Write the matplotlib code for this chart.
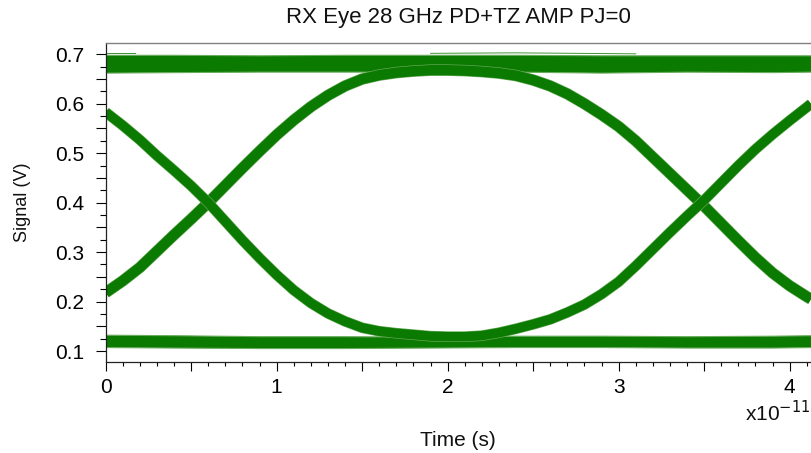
import matplotlib
matplotlib.use("Agg")
import matplotlib.pyplot as plt
import numpy as np
from matplotlib.ticker import MultipleLocator, FuncFormatter

# ---- data (time in units of 1e-11 s, signal in V) ----
TIME_SCALE = 1e-11

# upper trajectory: 0->1 edge, peak, then 1->0 edge
upper_t = [0.0, 0.1, 0.2, 0.3, 0.4, 0.5, 0.6, 0.7, 0.8, 0.9, 1.0, 1.1, 1.2, 1.3,
           1.4, 1.5, 1.6, 1.7, 1.8, 1.9, 2.0, 2.1, 2.2, 2.3, 2.4, 2.5, 2.6, 2.7,
           2.8, 2.9, 3.0, 3.1, 3.2, 3.3, 3.4, 3.5, 3.6, 3.7, 3.8, 3.9, 4.0, 4.1,
           4.125]
upper_v = [0.218, 0.242, 0.269, 0.302, 0.335, 0.367, 0.400, 0.435, 0.470, 0.504,
           0.537, 0.567, 0.594, 0.617, 0.636, 0.650, 0.658, 0.663, 0.666, 0.668,
           0.668, 0.667, 0.665, 0.662, 0.657, 0.648, 0.636, 0.620, 0.600, 0.578,
           0.554, 0.525, 0.492, 0.459, 0.426, 0.393, 0.358, 0.323, 0.289, 0.258,
           0.232, 0.210, 0.205]

# lower trajectory: 1->0 edge, trough, then 0->1 edge
lower_t = upper_t
lower_v = [0.583, 0.556, 0.527, 0.495, 0.465, 0.434, 0.400, 0.362, 0.324, 0.288,
           0.254, 0.223, 0.197, 0.176, 0.160, 0.147, 0.140, 0.136, 0.133, 0.130,
           0.129, 0.129, 0.131, 0.137, 0.145, 0.154, 0.164, 0.178, 0.194, 0.215,
           0.240, 0.272, 0.306, 0.340, 0.373, 0.405, 0.440, 0.475, 0.508, 0.538,
           0.566, 0.593, 0.600]

# steady '1' and '0' levels (band edges)
level_t = [0.0, 0.4, 0.9, 1.4, 1.9, 2.4, 2.9, 3.4, 3.9, 4.125]
high_top = [0.699, 0.699, 0.698, 0.699, 0.699, 0.699, 0.698, 0.698, 0.698, 0.698]
high_bot = [0.663, 0.664, 0.665, 0.665, 0.665, 0.665, 0.663, 0.665, 0.664, 0.665]
low_top = [0.133, 0.132, 0.130, 0.130, 0.129, 0.131, 0.131, 0.130, 0.131, 0.132]
low_bot = [0.108, 0.107, 0.106, 0.106, 0.107, 0.108, 0.108, 0.107, 0.107, 0.108]

# a few faint outlier traces just above the '1' level
stray_t = [[0.0, 0.17], [1.9, 2.4, 3.1]]
stray_v = [[0.703, 0.703], [0.702, 0.703, 0.701]]

x_tick_labels = ["0", "1", "2", "3", "4"]

# ---- figure ----
W, H = 811, 453
fig = plt.figure(figsize=(W / 100, H / 100), dpi=100)
plt.rcParams["font.family"] = ["Liberation Sans", "DejaVu Sans"]

left_px, right_px, top_px, bottom_px = 105.7, 811.0, 42.7, 362.0
ax = fig.add_axes([left_px / W, 1 - bottom_px / H,
                   (right_px - left_px) / W, (bottom_px - top_px) / H])

green = "#0a7a00"
fringe = "#6aab5e"
s = TIME_SCALE
lt = np.array(level_t) * s

ax.fill_between(lt, high_bot, high_top, color=green, lw=0.8, edgecolor=fringe)
ax.fill_between(lt, low_bot, low_top, color=green, lw=0.8, edgecolor=fringe)

for tt, vv in zip(stray_t, stray_v):
    ax.plot(np.array(tt) * s, vv, color="#3f9433", lw=0.7)

for tt, vv, lw in ((upper_t, upper_v, 7.4), (lower_t, lower_v, 6.8)):
    x = np.array(tt) * s
    ax.plot(x, vv, color=fringe, lw=lw + 0.9,
            solid_joinstyle="round", solid_capstyle="butt")
    ax.plot(x, vv, color=green, lw=lw,
            solid_joinstyle="round", solid_capstyle="butt")

ax.set_xlim(0, 4.125e-11)
ax.set_ylim(0.0778, 0.7235)

# ticks
ax.xaxis.set_major_locator(MultipleLocator(0.5e-11))
ax.xaxis.set_minor_locator(MultipleLocator(0.1e-11))


def xfmt(v, pos):
    k = v / s
    if abs(k - round(k)) < 1e-6 and 0 <= round(k) < len(x_tick_labels):
        return x_tick_labels[int(round(k))]
    return ""


ax.xaxis.set_major_formatter(FuncFormatter(xfmt))
ax.yaxis.set_major_locator(MultipleLocator(0.05))
ax.yaxis.set_minor_locator(MultipleLocator(0.025))


def yfmt(v, pos):
    k = v / 0.1
    if abs(k - round(k)) < 1e-6:
        return f"{v:.1f}"
    return ""


ax.yaxis.set_major_formatter(FuncFormatter(yfmt))

ax.tick_params(axis="x", which="major", length=6.2, width=0.8, pad=5,
               labelsize=15, direction="out")
ax.tick_params(axis="x", which="minor", length=3.0, width=0.8, direction="out")
ax.tick_params(axis="y", which="major", length=7.2, width=0.8, pad=8,
               labelsize=15, direction="out")
ax.tick_params(axis="y", which="minor", length=4.3, width=0.8, direction="out")

for side in ("left", "bottom"):
    ax.spines[side].set_color("#222222")
    ax.spines[side].set_linewidth(0.9)
ax.spines["top"].set_color("#808080")
ax.spines["top"].set_linewidth(1.0)
ax.spines["right"].set_visible(False)

# texts
fig.text(458 / W, 1 - 22.7 / H, "RX Eye 28 GHz PD+TZ AMP PJ=0",
         ha="center", va="baseline", fontsize=16, color="#111111")
fig.text(22.5 / W, 1 - 202 / H, "Signal (V)", rotation=90,
         ha="center", va="center", fontsize=13, color="#111111")
fig.text(458 / W, 1 - 441 / H, "Time (s)", ha="center", va="center",
         fontsize=15, color="#111111")
fig.text(810 / W, 1 - 421.5 / H, "x10$^{-11}$", ha="right", va="baseline",
         fontsize=15, color="#111111")

fig.savefig("out.png", dpi=100)
